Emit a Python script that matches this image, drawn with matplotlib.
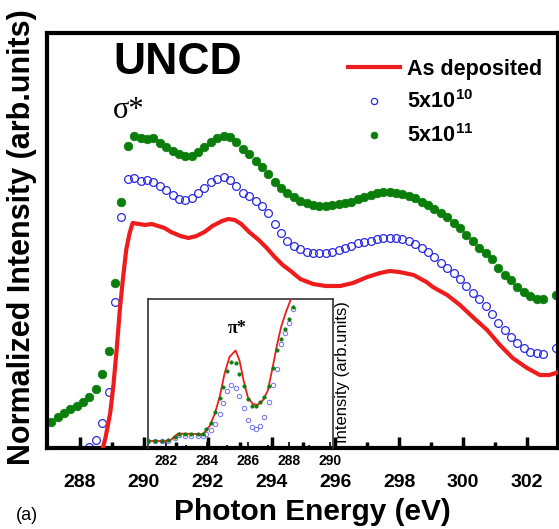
import matplotlib
matplotlib.use("Agg")
import matplotlib.pyplot as plt

plt.rcParams['font.family'] = ['Liberation Sans', 'DejaVu Sans']
plt.rcParams['mathtext.fontset'] = 'custom'
plt.rcParams['mathtext.bf'] = 'Liberation Sans:bold'
plt.rcParams['mathtext.rm'] = 'Liberation Sans'
plt.rcParams['mathtext.default'] = 'bf'

# ---- main spectra (C K-edge, sigma* region) ----
e_red = [288.70, 288.80, 288.95, 289.05, 289.15, 289.25, 289.35, 289.45, 289.55, 289.65,
         289.85, 290.05, 290.25, 290.45, 290.65, 290.85, 291.15, 291.40, 291.65, 291.90,
         292.15, 292.45, 292.65, 292.85, 293.05, 293.30, 293.60, 293.85, 294.10, 294.35,
         294.60, 294.90, 295.30, 295.70, 296.15, 296.55, 297.00, 297.40, 297.70, 298.00,
         298.45, 298.85, 299.05, 299.50, 299.90, 300.30, 300.75, 301.15, 301.55, 302.00,
         302.40, 302.70, 303.00]
i_red = [-0.02, 0.10, 0.35, 0.63, 0.98, 1.38, 1.70, 1.98, 2.14, 2.25,
         2.24, 2.23, 2.24, 2.22, 2.20, 2.16, 2.12, 2.10, 2.12, 2.16,
         2.22, 2.27, 2.29, 2.28, 2.24, 2.16, 2.08, 2.00, 1.91, 1.83,
         1.77, 1.69, 1.64, 1.62, 1.62, 1.65, 1.71, 1.75, 1.77, 1.76,
         1.73, 1.66, 1.61, 1.53, 1.43, 1.31, 1.18, 1.03, 0.90, 0.80,
         0.73, 0.73, 0.76]

e_blue = [288.1, 288.3, 288.5, 288.7, 288.9, 289.1, 289.3, 289.5, 289.7, 289.9,
          290.1, 290.3, 290.5, 290.7, 290.9, 291.1, 291.3, 291.5, 291.7, 291.9,
          292.1, 292.3, 292.5, 292.7, 292.9, 293.1, 293.3, 293.5, 293.7, 293.9,
          294.1, 294.3, 294.5, 294.7, 294.9, 295.1, 295.3, 295.5, 295.7, 295.9,
          296.1, 296.3, 296.5, 296.7, 296.9, 297.1, 297.3, 297.5, 297.7, 297.9,
          298.1, 298.3, 298.5, 298.7, 298.9, 299.1, 299.3, 299.5, 299.7, 299.9,
          300.1, 300.3, 300.5, 300.7, 300.9, 301.1, 301.3, 301.5, 301.7, 301.9,
          302.1, 302.3, 302.5, 302.9]
i_blue = [-0.08, 0.01, 0.08, 0.25, 0.56, 1.46, 2.31, 2.69, 2.70, 2.67,
          2.68, 2.66, 2.62, 2.58, 2.53, 2.49, 2.48, 2.50, 2.55, 2.60,
          2.66, 2.69, 2.71, 2.68, 2.62, 2.55, 2.52, 2.47, 2.42, 2.35,
          2.24, 2.15, 2.07, 2.02, 1.99, 1.96, 1.95, 1.95, 1.95, 1.96,
          1.98, 2.00, 2.02, 2.05, 2.06, 2.07, 2.09, 2.10, 2.10, 2.10,
          2.09, 2.07, 2.04, 2.00, 1.96, 1.91, 1.85, 1.80, 1.75, 1.69,
          1.62, 1.55, 1.49, 1.42, 1.34, 1.25, 1.18, 1.11, 1.05, 1.00,
          0.96, 0.95, 0.94, 1.00]

e_green = [287.1, 287.3, 287.5, 287.7, 287.9, 288.1, 288.3, 288.5, 288.7, 288.9,
           289.1, 289.3, 289.5, 289.7, 289.9, 290.1, 290.3, 290.5, 290.7, 290.9,
           291.1, 291.3, 291.5, 291.7, 291.9, 292.1, 292.3, 292.5, 292.7, 292.9,
           293.1, 293.3, 293.5, 293.7, 293.9, 294.1, 294.3, 294.5, 294.7, 294.9,
           295.1, 295.3, 295.5, 295.7, 295.9, 296.1, 296.3, 296.5, 296.7, 296.9,
           297.1, 297.3, 297.5, 297.7, 297.9, 298.1, 298.3, 298.5, 298.7, 298.9,
           299.1, 299.3, 299.5, 299.7, 299.9, 300.1, 300.3, 300.5, 300.7, 300.9,
           301.1, 301.3, 301.5, 301.7, 301.9, 302.1, 302.3, 302.5, 302.9]
i_green = [0.26, 0.31, 0.35, 0.39, 0.42, 0.46, 0.51, 0.59, 0.74, 0.97,
           1.65, 2.46, 3.02, 3.12, 3.10, 3.09, 3.10, 3.05, 3.01, 2.97,
           2.94, 2.92, 2.92, 2.96, 3.01, 3.06, 3.10, 3.12, 3.11, 3.06,
           2.99, 2.94, 2.87, 2.81, 2.74, 2.66, 2.60, 2.55, 2.51, 2.47,
           2.45, 2.43, 2.42, 2.42, 2.43, 2.44, 2.45, 2.46, 2.49, 2.51,
           2.53, 2.55, 2.56, 2.56, 2.55, 2.54, 2.52, 2.50, 2.46, 2.43,
           2.39, 2.35, 2.31, 2.25, 2.20, 2.13, 2.07, 2.00, 1.95, 1.89,
           1.80, 1.73, 1.68, 1.61, 1.56, 1.52, 1.49, 1.49, 1.53]

# ---- inset spectra (pi* region) ----
ins_e_red = [281.06, 282.19, 282.40, 282.60, 283.81, 284.14, 284.38, 284.62, 284.86, 285.10,
             285.40, 285.59, 285.79, 286.00, 286.24, 286.48, 286.72, 286.97, 287.21, 287.40,
             287.62, 287.86, 288.10, 288.40]
ins_i_red = [0.047, 0.047, 0.075, 0.097, 0.093, 0.149, 0.228, 0.340, 0.498, 0.610,
             0.655, 0.588, 0.453, 0.340, 0.295, 0.290, 0.318, 0.385, 0.543, 0.678,
             0.813, 0.914, 1.000, 1.120]
ins_e_pts = [281.14, 281.47, 281.79, 282.11, 282.44, 282.65, 282.92, 283.24, 283.57, 283.81,
             283.97, 284.18, 284.38, 284.62, 284.78, 284.98, 285.19, 285.43, 285.59, 285.79,
             286.00, 286.21, 286.40, 286.60, 286.81, 287.05, 287.21, 287.41, 287.62, 287.81,
             288.02, 288.21]
ins_i_green = [0.047, 0.047, 0.047, 0.052, 0.077, 0.097, 0.092, 0.092, 0.092, 0.097,
               0.126, 0.171, 0.239, 0.333, 0.412, 0.520, 0.577, 0.572, 0.498, 0.419,
               0.329, 0.279, 0.279, 0.306, 0.345, 0.419, 0.538, 0.655, 0.734, 0.802,
               0.863, 0.948]
ins_i_blue = [0.045, 0.045, 0.045, 0.050, 0.070, 0.085, 0.080, 0.078, 0.078, 0.082,
              0.095, 0.120, 0.160, 0.230, 0.300, 0.380, 0.420, 0.400, 0.350, 0.270,
              0.190, 0.140, 0.130, 0.150, 0.210, 0.310, 0.420, 0.530, 0.700, 0.770,
              0.840, 0.930]

labels = ['As deposited', '5x10$^{10}$', '5x10$^{11}$']
RED = '#ee1c1c'
BLUE = '#2a2ae0'
GREEN = '#0b7d0b'

W, H = 559, 529
fig = plt.figure(figsize=(W / 100, H / 100), dpi=100)
ax = fig.add_axes([47 / W, 1 - 448 / H, (558 - 47) / W, (448 - 33) / H])

ax.plot(e_red, i_red, color=RED, lw=3.0, label=labels[0], zorder=3)
ax.plot(e_blue, i_blue, ls='none', marker='o', ms=5.6, mfc='none', mec=BLUE,
        mew=0.9, label=labels[1], zorder=2)
ax.plot(e_green, i_green, ls='none', marker='o', ms=6.2, mfc=GREEN, mec=GREEN,
        mew=0.5, label=labels[2], zorder=2)

ax.set_xlim(286.97, 302.97)
ax.set_ylim(0, 4.15)
ax.set_xticks([288, 290, 292, 294, 296, 298, 300, 302])
ax.set_xticks([289, 291, 293, 295, 297, 299, 301], minor=True)
ax.set_yticks([])
ax.tick_params(axis='x', which='major', direction='in', length=8, width=2.5,
               labelsize=14, pad=19)
ax.tick_params(axis='x', which='minor', direction='in', length=4, width=2.5)
for lab in ax.get_xticklabels():
    lab.set_fontweight('bold')
for sp in ax.spines.values():
    sp.set_linewidth(3)

leg = ax.legend(loc='upper right', bbox_to_anchor=(553 / W, 1 - 48 / H),
                bbox_transform=fig.transFigure, frameon=False, borderpad=0,
                handlelength=2.4, handletextpad=0.35, labelspacing=0.5,
                markerscale=0.8, prop={'weight': 'bold', 'size': 15.5})

fig.text(113 / W, 1 - 62 / H, 'UNCD', fontsize=32, fontweight='bold', va='center', ha='left')
fig.text(113 / W, 1 - 118 / H, 'σ*', fontsize=22, family='Liberation Serif',
         va='baseline', ha='left')
fig.text(22 / W, 1 - 237 / H, 'Normalized Intensity (arb.units)', rotation=90,
         fontsize=22, fontweight='bold', va='center', ha='center')
fig.text(312 / W, 1 - 512 / H, 'Photon Energy (eV)', fontsize=21.5, fontweight='bold',
         va='center', ha='center')
fig.text(27 / W, 1 - 516 / H, '(a)', fontsize=13, va='center', ha='center')

# ---- inset ----
ins = fig.add_axes([148 / W, 1 - 448 / H, (333 - 148) / W, (448 - 299) / H])
ins.patch.set_alpha(0)
ins.plot(ins_e_red, ins_i_red, color=RED, lw=1.3, zorder=3)
ins.plot(ins_e_pts, ins_i_blue, ls='none', marker='o', ms=3.2, mfc='none',
         mec='#6f6ff0', mew=0.7, zorder=2)
ins.plot(ins_e_pts, ins_i_green, ls='none', marker='o', ms=2.6, mfc=GREEN,
         mec=GREEN, mew=0.3, zorder=4)
ins.set_xlim(281.13, 290.15)
ins.set_ylim(0, 1)
ins.set_xticks([282, 284, 286, 288, 290])
ins.set_xticks([283, 285, 287, 289], minor=True)
ins.set_yticks([])
ins.tick_params(axis='x', which='major', direction='in', length=4, width=1.2,
                labelsize=10, pad=4)
ins.tick_params(axis='x', which='minor', direction='in', length=2, width=1.2)
for lab in ins.get_xticklabels():
    lab.set_fontweight('bold')
for sp in ins.spines.values():
    sp.set_linewidth(1.2)
    sp.set_color('#333333')
ins.spines['bottom'].set_visible(False)
ins.text(0.48, 0.8, 'π*', transform=ins.transAxes, fontsize=13,
         family='Liberation Serif', fontweight='bold', ha='center', va='center')
fig.text(343 / W, 1 - 372 / H, 'Intensity (arb.units)', rotation=90, fontsize=12,
         va='center', ha='center')

fig.savefig('out.png', dpi=100)
